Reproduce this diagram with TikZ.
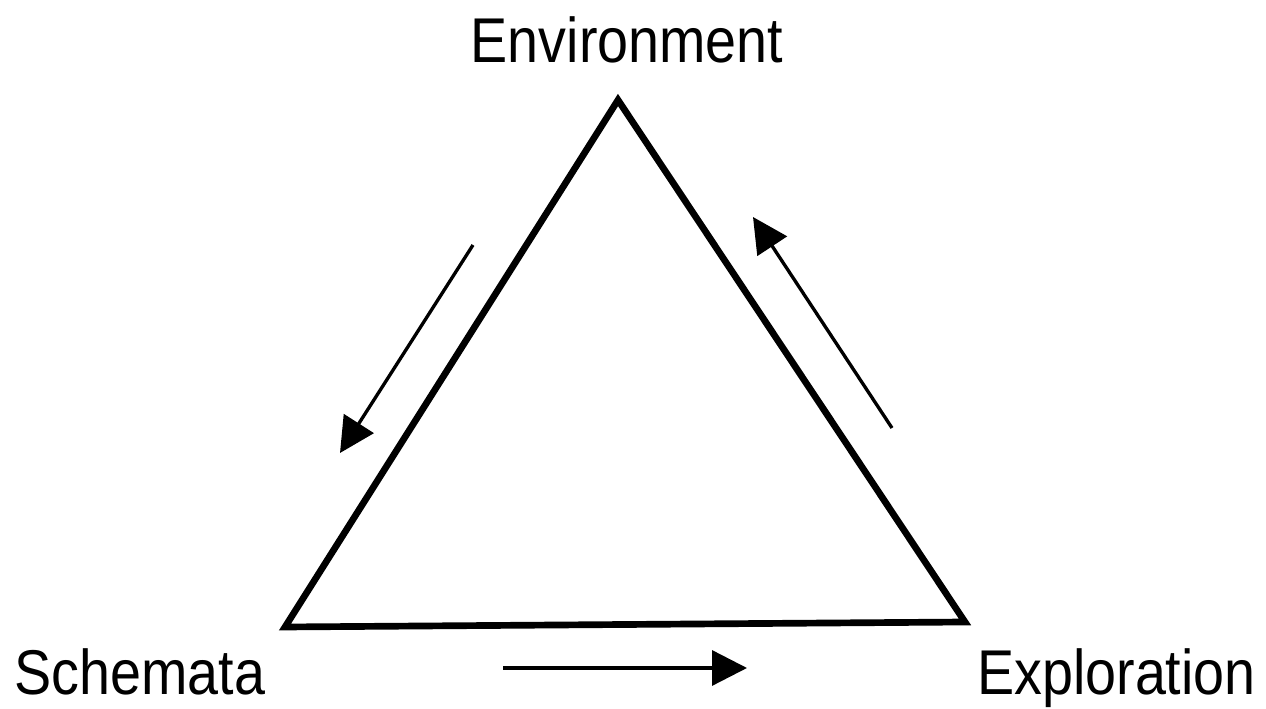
\documentclass[tikz,border=0pt]{standalone}
\usepackage{fontspec}
\setmainfont{Liberation Sans}
\usetikzlibrary{arrows.meta, positioning, calc}
\tikzset{
  every picture/.style={font=\fontsize{36}{40}\selectfont},
  edge/.style={draw=black, line width=3.8pt, line join=miter},
  flow/.style={-{Triangle[length=7mm, width=7mm]}, draw=black, line width=1.9pt},
  label/.style={inner sep=0pt, anchor=base, xscale=0.88},
}
\begin{document}
\begin{tikzpicture}
  \useasboundingbox (0,0) rectangle (25.32,14.18);
  % corners
  \coordinate (top) at (12.36,12.18);
  \coordinate (left) at (5.70,1.64);
  \coordinate (right) at (19.30,1.74);
  \draw[edge] (top) -- (left) -- (right) -- cycle;
  % labels
  \node[label] (env) at (12.54,12.92) {Environment};
  \node[label] (schem) at (2.80,0.29) {Schemata};
  \node[label] (expl) at (22.33,0.29) {Exploration};
  % arrows
  \coordinate (a1) at (9.46,9.28);  \coordinate (a2) at (6.80,5.12);
  \coordinate (b1) at (17.84,5.62); \coordinate (b2) at (15.06,9.84);
  \coordinate (c1) at (10.06,0.82); \coordinate (c2) at (14.94,0.82);
  \draw[flow] (a1) -- (a2);
  \draw[flow] (b1) -- (b2);
  \draw[flow] (c1) -- (c2);
\end{tikzpicture}
\end{document}
